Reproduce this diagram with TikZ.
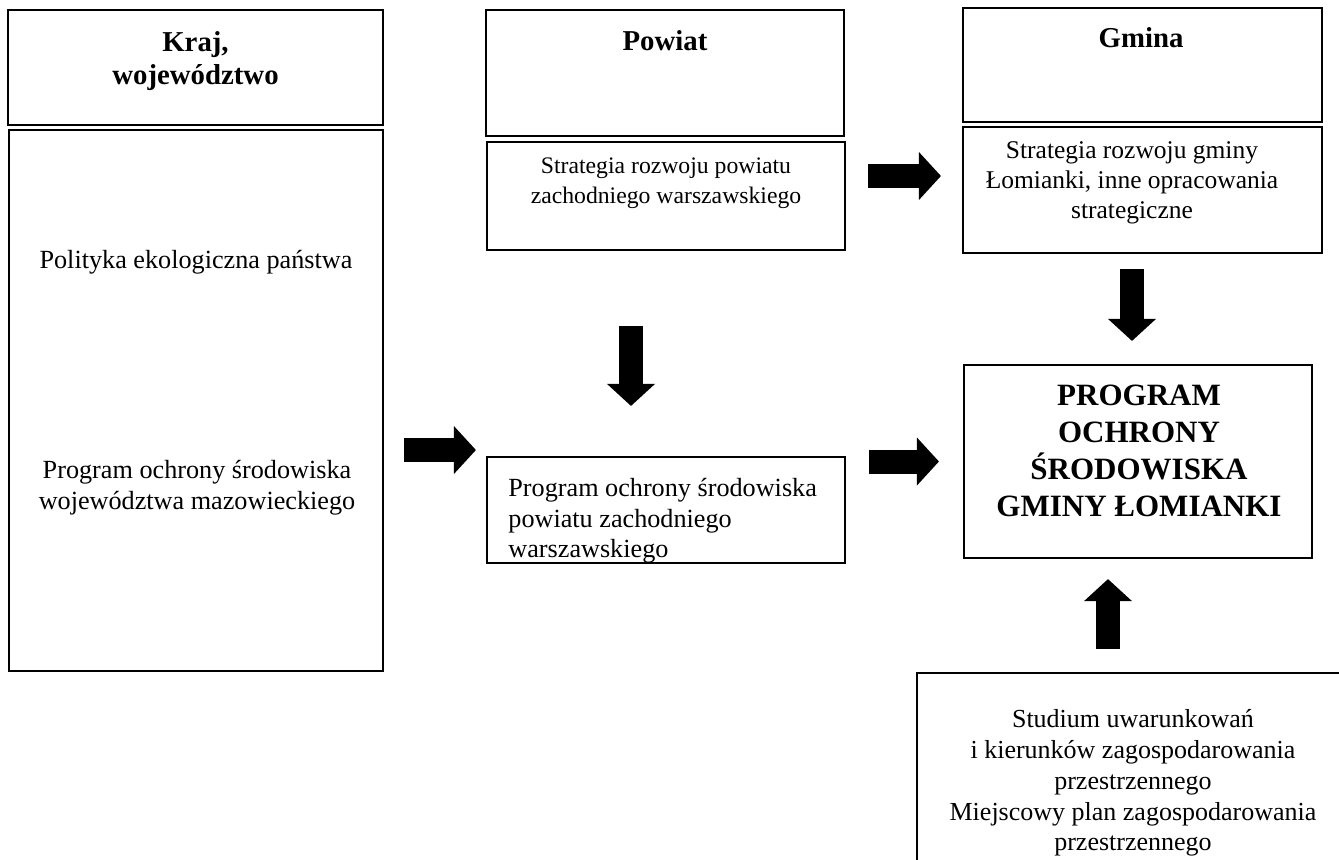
\documentclass[tikz,border=0pt]{standalone}
\usepackage{fontspec}
\setmainfont{Liberation Serif}
\usetikzlibrary{arrows.meta}

\begin{document}
\begin{tikzpicture}[
	x=0.5pt, y=-0.5pt,
	box/.style={draw, line width=1.1pt, inner sep=0pt},
	txt/.style={inner sep=0pt, align=center, font=\fontsize{13.1pt}{15.3pt}\selectfont},
	small/.style={txt, font=\fontsize{11.85pt}{15pt}\selectfont},
	head/.style={txt, font=\bfseries\fontsize{14.4pt}{16.5pt}\selectfont},
	big/.style={txt, font=\bfseries\fontsize{15.5pt}{18.4pt}\selectfont},
	fat/.style={line width=12pt, -{Triangle[length=11pt,width=24pt,line width=0pt]}}]
   \useasboundingbox (0,0) rectangle (1339,859);
   \clip (0,0) rectangle (1339,859);
   \fill[white] (0,0) rectangle (1339,859);
   % kraj, wojewodztwo
   \node[box, minimum width=187.5pt, minimum height=57.5pt] (kraj) at (195.5,67.5) {};
   \node[head] (krajtxt) at (195.5,61.5) {Kraj,\\województwo};
   \node[box, minimum width=187pt, minimum height=270.5pt] (wkraj) at (196,400.5) {};
   \node[txt] (polityka) at (196,262) {Polityka ekologiczna państwa};
   \node[txt] (wojprog) at (197,488) {Program ochrony środowiska\\województwa mazowieckiego};
   % powiat
   \node[box, minimum width=179pt, minimum height=63pt] (powiat) at (665,73) {};
   \node[head] (powiattxt) at (665,41) {Powiat};
   \node[box, minimum width=179pt, minimum height=54pt] (pstrat) at (666,196) {};
   \node[small] (pstrattxt) at (666,183) {Strategia rozwoju powiatu\\zachodniego warszawskiego};
   \node[box, minimum width=179pt, minimum height=53pt] (pprog) at (666,510) {};
   \begin{scope}
      \clip (pprog.south west) rectangle (pprog.north east);
      \node[txt, align=left, anchor=west] (pprogtxt) at (508,521) {Program ochrony środowiska\\powiatu zachodniego\\warszawskiego};
   \end{scope}
   % gmina
   \node[box, minimum width=179.5pt, minimum height=57pt] (gmina) at (1142.5,65) {};
   \node[head] (gminatxt) at (1141,38) {Gmina};
   \node[box, minimum width=179.5pt, minimum height=63pt] (gstrat) at (1142.5,190) {};
   \node[txt, font=\fontsize{12.75pt}{15pt}\selectfont] (gstrattxt) at (1132,183) {Strategia rozwoju gminy\\Łomianki, inne opracowania\\strategiczne};
   \node[box, minimum width=174pt, minimum height=96.5pt] (program) at (1138,461.5) {};
   \node[big] (programtxt) at (1139,451) {PROGRAM\\OCHRONY\\ŚRODOWISKA\\GMINY ŁOMIANKI};
   \node[box, minimum width=221.5pt, minimum height=103.5pt] (studium) at (1138.5,776.5) {};
   \node[txt, font=\fontsize{13pt}{15.4pt}\selectfont] (studiumtxt) at (1133,783) {Studium uwarunkowań\\i kierunków zagospodarowania\\przestrzennego\\Miejscowy plan zagospodarowania\\przestrzennego};
   % arrows
   \draw[fat] ([xshift=10pt,yshift=-24.75pt]wkraj.east) -- ([xshift=-5pt,yshift=30pt]pprog.west);
   \draw[fat] ([xshift=11pt,yshift=10pt]pstrat.east) -- ([xshift=-10.5pt,yshift=7pt]gstrat.west);
   \draw[fat] ([xshift=11.5pt,yshift=24.25pt]pprog.east) -- ([xshift=-12pt]program.west);
   \draw[fat] ([xshift=-17.5pt,yshift=-37.5pt]pstrat.south) -- ([xshift=-17.5pt,yshift=25pt]pprog.north);
   \draw[fat] ([xshift=-5.25pt,yshift=-7.5pt]gstrat.south) -- ([xshift=-3pt,yshift=11.5pt]program.north);
   \draw[fat] ([xshift=-15.25pt,yshift=11.5pt]studium.north) -- ([xshift=-15pt,yshift=-10pt]program.south);
\end{tikzpicture}
\end{document}
